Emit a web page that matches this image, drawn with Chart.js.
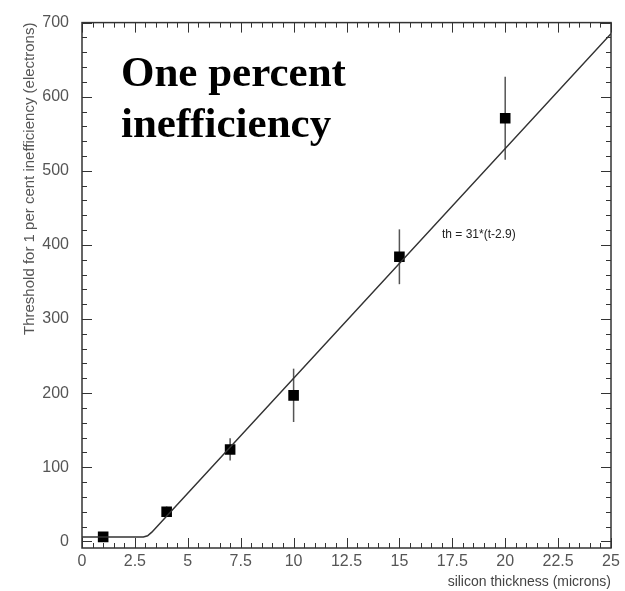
<!DOCTYPE html>
<html>
<head>
<meta charset="utf-8">
<script src="https://cdn.jsdelivr.net/npm/chart.js@4/dist/chart.umd.min.js"></script>
<style>
  html, body { margin: 0; padding: 0; background: #fff; }
  canvas { display: block; }
</style>
</head>
<body>
<canvas id="thresholdChart" width="625" height="591"></canvas>
<script>
// measured points
const thickness = [1, 4, 7, 10, 15, 20];
const threshold = [6, 40, 124, 197, 384, 571];
const thresholdErr = [3, 7, 15, 36, 37, 56];

// fit curve th = 31*(t-2.9), flat near zero below the knee
const fitT = [0, 2.9, 3.1, 3.3, 25];
const fitTh = [6, 6, 7.5, 12.4, 685];

const xTicks = [0, 2.5, 5, 7.5, 10, 12.5, 15, 17.5, 20, 22.5, 25];
const yTicks = [0, 100, 200, 300, 400, 500, 600, 700];

const INK = '#333';

// error bars under the markers
const errorBars = {
  id: 'errorBars',
  beforeDatasetsDraw(chart) {
    const { ctx, scales: { x, y } } = chart;
    ctx.save();
    ctx.strokeStyle = '#555';
    ctx.lineWidth = 1.5;
    thickness.forEach((t, i) => {
      const px = x.getPixelForValue(t);
      ctx.beginPath();
      ctx.moveTo(px, y.getPixelForValue(threshold[i] - thresholdErr[i]));
      ctx.lineTo(px, y.getPixelForValue(threshold[i] + thresholdErr[i]));
      ctx.stroke();
    });
    ctx.restore();
  }
};

// ROOT-style frame with inward ticks on all four sides
const frame = {
  id: 'frame',
  afterDraw(chart) {
    const { ctx, chartArea: a, scales: { x, y } } = chart;
    ctx.save();
    ctx.strokeStyle = INK;
    ctx.lineWidth = 1;
    ctx.beginPath();
    for (let v = 0; v <= 25.001; v += 0.5) {
      const px = Math.round(x.getPixelForValue(v)) + 0.5;
      const len = Math.abs(v / 2.5 - Math.round(v / 2.5)) < 1e-6 ? 10 : 5;
      ctx.moveTo(px, a.bottom); ctx.lineTo(px, a.bottom - len);
      ctx.moveTo(px, a.top); ctx.lineTo(px, a.top + len);
    }
    for (let v = 0; v <= 700; v += 20) {
      const py = Math.round(y.getPixelForValue(v)) + 0.5;
      const len = v % 100 === 0 ? 10 : 5;
      ctx.moveTo(a.left, py); ctx.lineTo(a.left + len, py);
      ctx.moveTo(a.right, py); ctx.lineTo(a.right - len, py);
    }
    ctx.stroke();
    ctx.lineWidth = 1.5;
    ctx.strokeRect(a.left, a.top, a.right - a.left, a.bottom - a.top);

    // labels inside the plot
    ctx.fillStyle = '#000';
    ctx.font = 'bold 43px "Liberation Serif", "Times New Roman", serif';
    ctx.textBaseline = 'alphabetic';
    ctx.fillText('One percent', 121, 86);
    ctx.fillText('inefficiency', 121, 137);

    ctx.fillStyle = '#222';
    ctx.font = '12px "Liberation Sans", Arial, sans-serif';
    ctx.textBaseline = 'middle';
    ctx.fillText('th = 31*(t-2.9)', 442, 235);
    ctx.restore();
  }
};

const ctx = document.getElementById('thresholdChart').getContext('2d');
const chart = new Chart(ctx, {
  type: 'scatter',
  data: {
    datasets: [
      {
        type: 'line',
        label: 'fit',
        data: fitT.map((t, i) => ({ x: t, y: fitTh[i] })),
        borderColor: INK,
        borderWidth: 1.5,
        pointRadius: 0,
        tension: 0,
        fill: false
      },
      {
        label: 'threshold',
        data: thickness.map((t, i) => ({ x: t, y: threshold[i] })),
        pointStyle: 'rect',
        pointRadius: 7.5,
        backgroundColor: '#000',
        borderColor: '#000',
        borderWidth: 0
      }
    ]
  },
  options: {
    responsive: false,
    animation: false,
    layout: { padding: { top: 12, right: 14, left: 0, bottom: 0 } },
    plugins: { legend: { display: false }, tooltip: { enabled: false } },
    scales: {
      x: {
        type: 'linear',
        min: 0,
        max: 25,
        afterBuildTicks: s => { s.ticks = xTicks.map(v => ({ value: v })); },
        afterFit: s => { s.height = 43; },
        grid: { display: false, drawTicks: false },
        border: { display: false },
        ticks: {
          color: '#555',
          padding: 4,
          maxRotation: 0,
          font: { family: '"Liberation Sans", Arial, sans-serif', size: 16 },
          callback: v => String(v)
        },
        title: {
          display: true,
          text: 'silicon thickness (microns)',
          align: 'end',
          color: '#444',
          padding: { top: 0, bottom: 0 },
          font: { family: '"Liberation Sans", Arial, sans-serif', size: 14 }
        }
      },
      y: {
        min: -9,
        max: 700,
        afterBuildTicks: s => { s.ticks = yTicks.map(v => ({ value: v })); },
        afterFit: s => { s.width = 82; },
        grid: { display: false, drawTicks: false },
        border: { display: false },
        ticks: {
          color: '#555',
          padding: 13,
          font: { family: '"Liberation Sans", Arial, sans-serif', size: 16 }
        },
        title: {
          display: true,
          text: 'Threshold for 1 per cent inefficiency (electrons)',
          align: 'end',
          color: '#555',
          padding: { top: 21, bottom: 0 },
          font: { family: '"Liberation Sans", Arial, sans-serif', size: 15 }
        }
      }
    }
  },
  plugins: [errorBars, frame]
});
</script>
</body>
</html>
